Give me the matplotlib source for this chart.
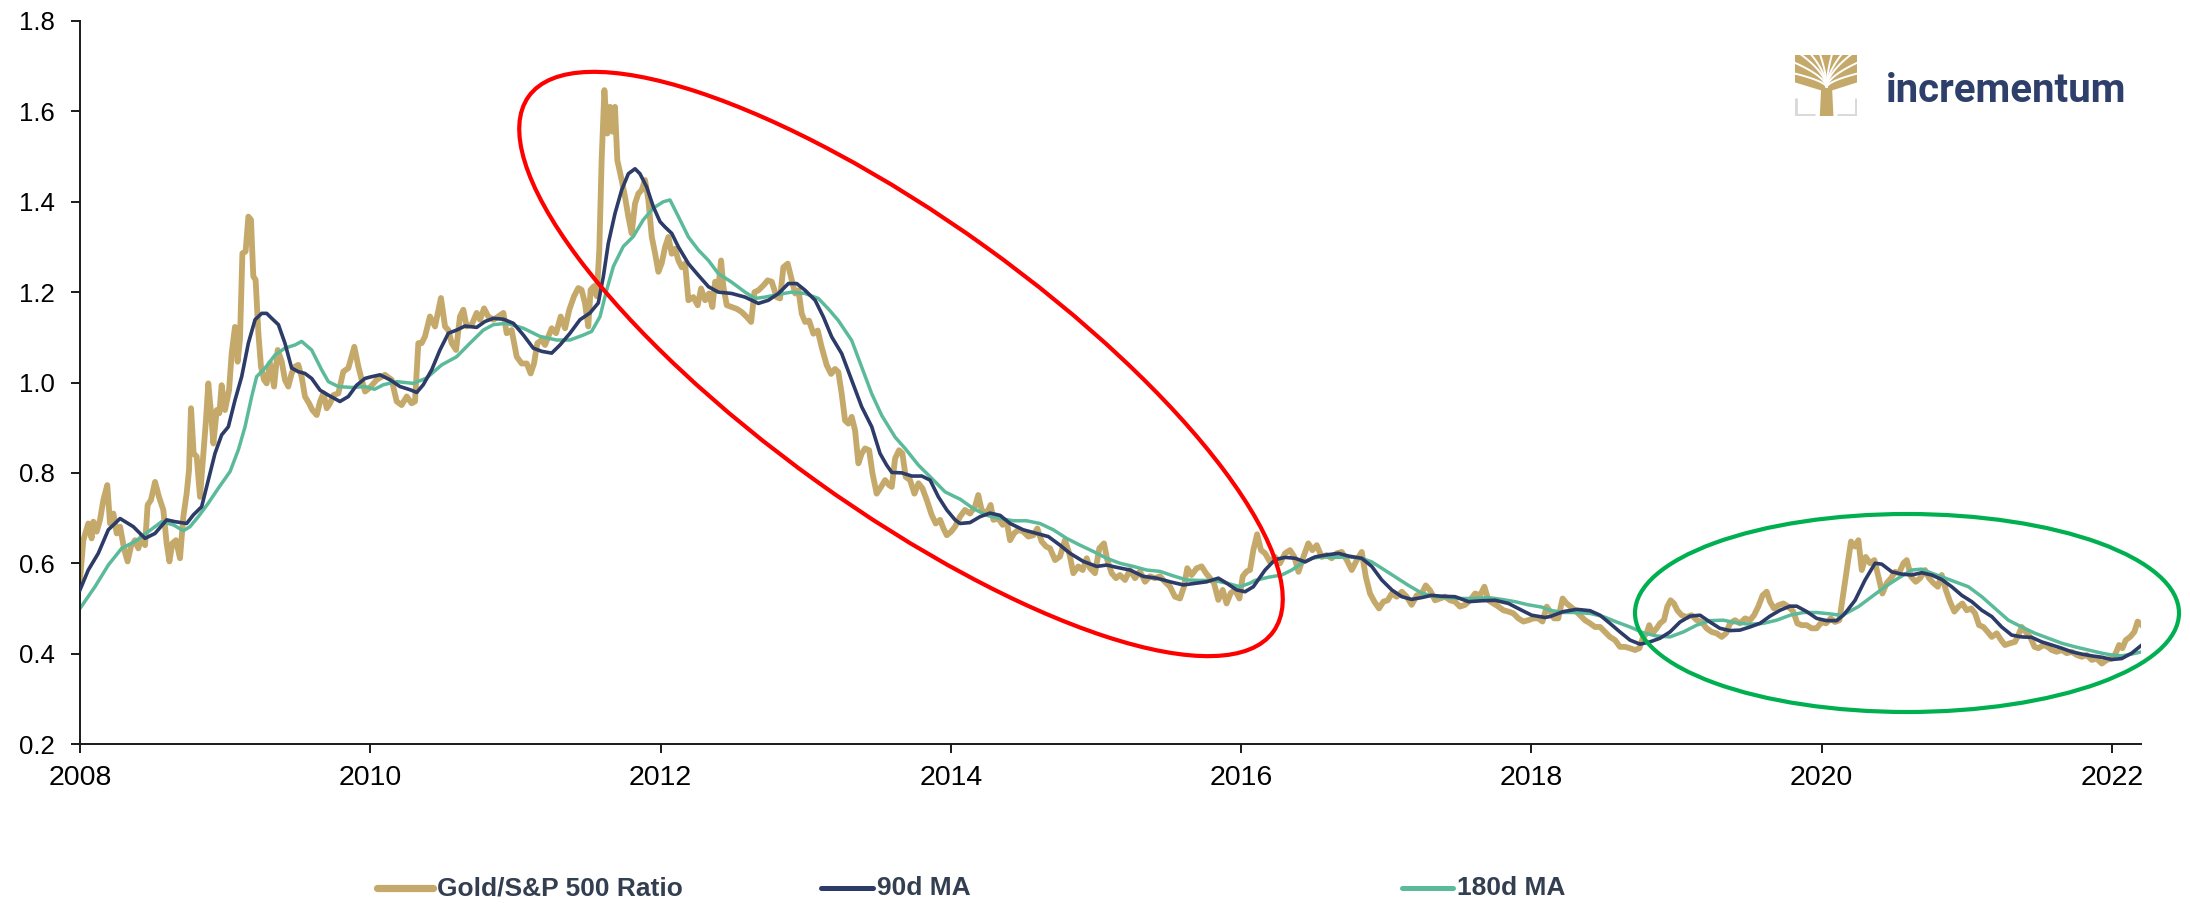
import matplotlib
matplotlib.use("Agg")
import matplotlib.pyplot as plt
from matplotlib.patches import Ellipse
from matplotlib.lines import Line2D
import numpy as np

# ---- data -------------------------------------------------------------
gold_year = [
    2008.000, 2008.023, 2008.057, 2008.080, 2008.092, 2008.115, 2008.138, 2008.161, 2008.188, 2008.207,
    2008.230, 2008.253, 2008.276, 2008.305, 2008.328, 2008.351, 2008.379, 2008.402, 2008.425, 2008.448,
    2008.466, 2008.489, 2008.517, 2008.544, 2008.574, 2008.597, 2008.616, 2008.636, 2008.661, 2008.689,
    2008.712, 2008.735, 2008.751, 2008.765, 2008.783, 2008.804, 2008.827, 2008.850, 2008.868, 2008.884,
    2008.903, 2008.919, 2008.942, 2008.960, 2008.976, 2008.999, 2009.027, 2009.045, 2009.068, 2009.086,
    2009.102, 2009.119, 2009.141, 2009.160, 2009.178, 2009.194, 2009.210, 2009.229, 2009.247, 2009.268,
    2009.286, 2009.309, 2009.337, 2009.362, 2009.390, 2009.412, 2009.435, 2009.458, 2009.481, 2009.504,
    2009.527, 2009.550, 2009.578, 2009.601, 2009.631, 2009.654, 2009.677, 2009.700, 2009.723, 2009.746,
    2009.780, 2009.814, 2009.849, 2009.890, 2009.918, 2009.941, 2009.964, 2009.998, 2010.044, 2010.101,
    2010.147, 2010.182, 2010.216, 2010.251, 2010.285, 2010.308, 2010.331, 2010.354, 2010.377, 2010.411,
    2010.446, 2010.487, 2010.515, 2010.538, 2010.561, 2010.591, 2010.618, 2010.641, 2010.664, 2010.699,
    2010.733, 2010.756, 2010.784, 2010.813, 2010.848, 2010.882, 2010.917, 2010.940, 2010.974, 2011.009,
    2011.043, 2011.078, 2011.105, 2011.128, 2011.151, 2011.181, 2011.204, 2011.227, 2011.250, 2011.280,
    2011.312, 2011.342, 2011.371, 2011.404, 2011.433, 2011.456, 2011.479, 2011.502, 2011.518, 2011.541,
    2011.560, 2011.578, 2011.594, 2011.613, 2011.633, 2011.652, 2011.670, 2011.686, 2011.702, 2011.732,
    2011.755, 2011.778, 2011.801, 2011.824, 2011.847, 2011.870, 2011.893, 2011.916, 2011.939, 2011.962,
    2011.985, 2012.008, 2012.031, 2012.054, 2012.077, 2012.100, 2012.123, 2012.146, 2012.169, 2012.192,
    2012.226, 2012.256, 2012.279, 2012.307, 2012.334, 2012.357, 2012.376, 2012.398, 2012.417, 2012.433,
    2012.456, 2012.490, 2012.525, 2012.559, 2012.594, 2012.624, 2012.647, 2012.674, 2012.709, 2012.738,
    2012.766, 2012.800, 2012.823, 2012.846, 2012.876, 2012.899, 2012.927, 2012.950, 2012.973, 2012.996,
    2013.023, 2013.053, 2013.083, 2013.110, 2013.145, 2013.175, 2013.202, 2013.225, 2013.248, 2013.271,
    2013.294, 2013.317, 2013.340, 2013.363, 2013.386, 2013.409, 2013.437, 2013.460, 2013.489, 2013.519,
    2013.547, 2013.574, 2013.593, 2013.616, 2013.643, 2013.666, 2013.689, 2013.719, 2013.749, 2013.777,
    2013.804, 2013.834, 2013.868, 2013.896, 2013.926, 2013.949, 2013.972, 2014.002, 2014.029, 2014.063,
    2014.097, 2014.132, 2014.166, 2014.189, 2014.212, 2014.247, 2014.274, 2014.293, 2014.327, 2014.357,
    2014.385, 2014.408, 2014.435, 2014.465, 2014.499, 2014.534, 2014.568, 2014.596, 2014.626, 2014.656,
    2014.683, 2014.718, 2014.752, 2014.786, 2014.816, 2014.844, 2014.878, 2014.908, 2014.936, 2014.959,
    2014.993, 2015.023, 2015.055, 2015.078, 2015.108, 2015.138, 2015.165, 2015.200, 2015.234, 2015.269,
    2015.303, 2015.338, 2015.372, 2015.407, 2015.441, 2015.475, 2015.510, 2015.544, 2015.579, 2015.606,
    2015.629, 2015.659, 2015.694, 2015.728, 2015.758, 2015.786, 2015.813, 2015.843, 2015.873, 2015.900,
    2015.928, 2015.958, 2015.988, 2016.011, 2016.038, 2016.061, 2016.084, 2016.110, 2016.137, 2016.165,
    2016.199, 2016.234, 2016.268, 2016.303, 2016.337, 2016.367, 2016.395, 2016.429, 2016.463, 2016.491,
    2016.521, 2016.555, 2016.590, 2016.624, 2016.659, 2016.693, 2016.728, 2016.762, 2016.797, 2016.831,
    2016.859, 2016.888, 2016.918, 2016.950, 2016.980, 2017.010, 2017.038, 2017.072, 2017.107, 2017.141,
    2017.175, 2017.210, 2017.244, 2017.272, 2017.302, 2017.336, 2017.371, 2017.405, 2017.440, 2017.474,
    2017.508, 2017.543, 2017.577, 2017.612, 2017.646, 2017.676, 2017.704, 2017.738, 2017.773, 2017.807,
    2017.842, 2017.876, 2017.910, 2017.945, 2017.979, 2018.014, 2018.048, 2018.076, 2018.106, 2018.132,
    2018.156, 2018.185, 2018.215, 2018.243, 2018.270, 2018.300, 2018.335, 2018.369, 2018.404, 2018.438,
    2018.473, 2018.507, 2018.541, 2018.576, 2018.610, 2018.645, 2018.679, 2018.714, 2018.744, 2018.767,
    2018.794, 2018.812, 2018.835, 2018.863, 2018.886, 2018.913, 2018.936, 2018.959, 2018.982, 2019.005,
    2019.035, 2019.070, 2019.104, 2019.139, 2019.173, 2019.207, 2019.242, 2019.276, 2019.311, 2019.341,
    2019.368, 2019.403, 2019.437, 2019.472, 2019.506, 2019.534, 2019.563, 2019.593, 2019.621, 2019.644,
    2019.671, 2019.701, 2019.736, 2019.770, 2019.805, 2019.832, 2019.862, 2019.897, 2019.931, 2019.965,
    2020.000, 2020.030, 2020.062, 2020.092, 2020.122, 2020.145, 2020.161, 2020.184, 2020.202, 2020.230,
    2020.253, 2020.276, 2020.303, 2020.333, 2020.363, 2020.391, 2020.418, 2020.448, 2020.478, 2020.506,
    2020.533, 2020.563, 2020.586, 2020.616, 2020.648, 2020.678, 2020.712, 2020.740, 2020.770, 2020.800,
    2020.827, 2020.855, 2020.884, 2020.914, 2020.942, 2020.969, 2020.999, 2021.029, 2021.057, 2021.084,
    2021.114, 2021.144, 2021.172, 2021.206, 2021.236, 2021.263, 2021.298, 2021.332, 2021.355, 2021.378,
    2021.406, 2021.436, 2021.466, 2021.493, 2021.528, 2021.557, 2021.585, 2021.619, 2021.654, 2021.688,
    2021.723, 2021.757, 2021.792, 2021.826, 2021.861, 2021.895, 2021.930, 2021.964, 2021.998, 2022.026,
    2022.049, 2022.072, 2022.095, 2022.125, 2022.154, 2022.177, 2022.205,
]
gold_ratio = [
    0.563, 0.651, 0.688, 0.655, 0.692, 0.670, 0.696, 0.740, 0.773, 0.688,
    0.710, 0.666, 0.681, 0.630, 0.604, 0.637, 0.651, 0.633, 0.659, 0.640,
    0.729, 0.740, 0.780, 0.747, 0.718, 0.644, 0.604, 0.644, 0.651, 0.611,
    0.703, 0.755, 0.806, 0.943, 0.843, 0.836, 0.747, 0.843, 0.917, 0.998,
    0.932, 0.865, 0.939, 0.932, 0.994, 0.939, 0.983, 1.065, 1.123, 1.046,
    1.094, 1.286, 1.290, 1.367, 1.360, 1.235, 1.227, 1.109, 1.035, 1.006,
    0.998, 1.043, 0.991, 1.072, 1.046, 1.006, 0.991, 1.020, 1.035, 1.039,
    1.013, 0.969, 0.954, 0.939, 0.928, 0.958, 0.976, 0.943, 0.954, 0.972,
    0.976, 1.024, 1.032, 1.079, 1.035, 1.006, 0.980, 0.989, 1.006, 1.017,
    1.006, 0.958, 0.950, 0.969, 0.954, 0.958, 1.087, 1.087, 1.102, 1.146,
    1.124, 1.187, 1.124, 1.116, 1.087, 1.072, 1.146, 1.161, 1.124, 1.128,
    1.154, 1.139, 1.164, 1.146, 1.139, 1.146, 1.154, 1.109, 1.116, 1.057,
    1.042, 1.042, 1.020, 1.042, 1.087, 1.094, 1.083, 1.102, 1.120, 1.109,
    1.146, 1.120, 1.161, 1.191, 1.209, 1.205, 1.176, 1.124, 1.205, 1.213,
    1.191, 1.294, 1.492, 1.647, 1.551, 1.610, 1.555, 1.610, 1.492, 1.448,
    1.411, 1.367, 1.330, 1.396, 1.418, 1.426, 1.448, 1.404, 1.323, 1.286,
    1.245, 1.264, 1.300, 1.322, 1.285, 1.296, 1.270, 1.255, 1.263, 1.182,
    1.189, 1.171, 1.208, 1.182, 1.197, 1.167, 1.223, 1.208, 1.270, 1.212,
    1.171, 1.167, 1.163, 1.156, 1.145, 1.134, 1.200, 1.204, 1.215, 1.226,
    1.223, 1.189, 1.186, 1.255, 1.263, 1.233, 1.197, 1.204, 1.152, 1.134,
    1.137, 1.108, 1.115, 1.078, 1.038, 1.019, 1.030, 1.023, 0.975, 0.916,
    0.909, 0.924, 0.894, 0.821, 0.843, 0.854, 0.850, 0.799, 0.754, 0.769,
    0.784, 0.773, 0.769, 0.832, 0.850, 0.843, 0.791, 0.784, 0.754, 0.777,
    0.766, 0.740, 0.707, 0.688, 0.696, 0.677, 0.662, 0.670, 0.681, 0.703,
    0.718, 0.710, 0.725, 0.751, 0.718, 0.710, 0.729, 0.696, 0.699, 0.685,
    0.692, 0.651, 0.666, 0.674, 0.670, 0.659, 0.662, 0.677, 0.648, 0.637,
    0.633, 0.607, 0.615, 0.651, 0.622, 0.578, 0.593, 0.585, 0.611, 0.589,
    0.578, 0.633, 0.644, 0.607, 0.578, 0.567, 0.574, 0.563, 0.585, 0.567,
    0.582, 0.559, 0.571, 0.567, 0.571, 0.559, 0.548, 0.526, 0.522, 0.548,
    0.589, 0.574, 0.589, 0.593, 0.578, 0.567, 0.556, 0.519, 0.541, 0.511,
    0.534, 0.541, 0.522, 0.571, 0.582, 0.585, 0.629, 0.664, 0.629, 0.622,
    0.603, 0.614, 0.600, 0.622, 0.629, 0.614, 0.581, 0.614, 0.644, 0.629,
    0.640, 0.614, 0.618, 0.611, 0.622, 0.625, 0.607, 0.585, 0.607, 0.625,
    0.570, 0.533, 0.515, 0.500, 0.515, 0.518, 0.533, 0.526, 0.537, 0.526,
    0.508, 0.529, 0.533, 0.551, 0.540, 0.518, 0.522, 0.526, 0.518, 0.515,
    0.504, 0.508, 0.518, 0.533, 0.529, 0.548, 0.518, 0.511, 0.504, 0.496,
    0.493, 0.489, 0.478, 0.471, 0.474, 0.478, 0.478, 0.471, 0.504, 0.492,
    0.478, 0.478, 0.522, 0.511, 0.504, 0.496, 0.485, 0.474, 0.467, 0.459,
    0.459, 0.448, 0.437, 0.430, 0.415, 0.415, 0.412, 0.408, 0.412, 0.434,
    0.445, 0.463, 0.445, 0.456, 0.467, 0.474, 0.504, 0.518, 0.511, 0.496,
    0.485, 0.481, 0.485, 0.474, 0.470, 0.456, 0.448, 0.445, 0.437, 0.445,
    0.467, 0.474, 0.467, 0.478, 0.474, 0.485, 0.504, 0.529, 0.537, 0.515,
    0.500, 0.507, 0.511, 0.504, 0.493, 0.467, 0.463, 0.463, 0.456, 0.456,
    0.470, 0.467, 0.478, 0.470, 0.474, 0.525, 0.560, 0.610, 0.648, 0.637,
    0.651, 0.585, 0.614, 0.600, 0.607, 0.570, 0.533, 0.556, 0.567, 0.581,
    0.578, 0.600, 0.607, 0.570, 0.559, 0.567, 0.585, 0.567, 0.556, 0.548,
    0.574, 0.541, 0.515, 0.493, 0.504, 0.511, 0.496, 0.500, 0.489, 0.463,
    0.459, 0.448, 0.437, 0.445, 0.430, 0.419, 0.423, 0.426, 0.441, 0.459,
    0.448, 0.437, 0.415, 0.412, 0.419, 0.415, 0.408, 0.404, 0.408, 0.401,
    0.404, 0.397, 0.393, 0.397, 0.386, 0.389, 0.378, 0.386, 0.389, 0.401,
    0.419, 0.412, 0.430, 0.437, 0.448, 0.471, 0.463,
]

ma90_year = [
    2008.000, 2008.057, 2008.126, 2008.195, 2008.276, 2008.367, 2008.448, 2008.517, 2008.597, 2008.655,
    2008.735, 2008.781, 2008.838, 2008.884, 2008.930, 2008.976, 2009.022, 2009.068, 2009.114, 2009.160,
    2009.206, 2009.252, 2009.286, 2009.321, 2009.367, 2009.412, 2009.458, 2009.504, 2009.550, 2009.596,
    2009.654, 2009.711, 2009.791, 2009.849, 2009.906, 2009.964, 2009.998, 2010.067, 2010.136, 2010.205,
    2010.274, 2010.320, 2010.365, 2010.423, 2010.480, 2010.538, 2010.595, 2010.653, 2010.733, 2010.790,
    2010.848, 2010.917, 2010.986, 2011.055, 2011.123, 2011.181, 2011.250, 2011.307, 2011.376, 2011.445,
    2011.514, 2011.571, 2011.606, 2011.640, 2011.686, 2011.732, 2011.778, 2011.824, 2011.858, 2011.904,
    2011.950, 2011.996, 2012.031, 2012.077, 2012.123, 2012.192, 2012.261, 2012.330, 2012.398, 2012.490,
    2012.582, 2012.674, 2012.743, 2012.812, 2012.881, 2012.938, 2012.996, 2013.065, 2013.122, 2013.179,
    2013.248, 2013.317, 2013.386, 2013.455, 2013.512, 2013.558, 2013.593, 2013.662, 2013.731, 2013.800,
    2013.857, 2013.914, 2013.972, 2014.029, 2014.063, 2014.132, 2014.201, 2014.270, 2014.339, 2014.408,
    2014.499, 2014.591, 2014.672, 2014.752, 2014.821, 2014.913, 2015.005, 2015.074, 2015.142, 2015.234,
    2015.326, 2015.418, 2015.510, 2015.602, 2015.694, 2015.763, 2015.843, 2015.900, 2015.969, 2016.027,
    2016.084, 2016.110, 2016.165, 2016.234, 2016.303, 2016.372, 2016.441, 2016.509, 2016.578, 2016.670,
    2016.739, 2016.831, 2016.900, 2016.969, 2017.038, 2017.107, 2017.175, 2017.244, 2017.313, 2017.382,
    2017.474, 2017.566, 2017.658, 2017.750, 2017.842, 2017.933, 2018.002, 2018.094, 2018.128, 2018.220,
    2018.312, 2018.404, 2018.473, 2018.541, 2018.610, 2018.679, 2018.748, 2018.817, 2018.886, 2018.955,
    2019.024, 2019.093, 2019.162, 2019.230, 2019.299, 2019.368, 2019.437, 2019.506, 2019.575, 2019.644,
    2019.713, 2019.782, 2019.828, 2019.897, 2019.965, 2020.034, 2020.103, 2020.149, 2020.175, 2020.230,
    2020.299, 2020.368, 2020.414, 2020.483, 2020.551, 2020.620, 2020.689, 2020.758, 2020.827, 2020.896,
    2020.965, 2021.034, 2021.103, 2021.172, 2021.240, 2021.309, 2021.378, 2021.447, 2021.516, 2021.585,
    2021.654, 2021.723, 2021.792, 2021.861, 2021.930, 2021.998, 2022.067, 2022.136, 2022.205,
]
ma90 = [
    0.541, 0.585, 0.622, 0.674, 0.699, 0.681, 0.655, 0.666, 0.696, 0.692,
    0.688, 0.707, 0.725, 0.784, 0.843, 0.884, 0.902, 0.961, 1.013, 1.087,
    1.139, 1.153, 1.153, 1.142, 1.128, 1.087, 1.032, 1.024, 1.020, 1.009,
    0.983, 0.972, 0.958, 0.969, 0.994, 1.009, 1.012, 1.017, 1.006, 0.991,
    0.984, 0.978, 0.995, 1.028, 1.072, 1.109, 1.116, 1.125, 1.122, 1.135,
    1.142, 1.140, 1.131, 1.105, 1.076, 1.069, 1.065, 1.083, 1.109, 1.139,
    1.154, 1.176, 1.235, 1.308, 1.374, 1.426, 1.462, 1.473, 1.462, 1.433,
    1.389, 1.356, 1.344, 1.330, 1.300, 1.263, 1.237, 1.212, 1.200, 1.197,
    1.189, 1.175, 1.182, 1.197, 1.219, 1.219, 1.204, 1.182, 1.145, 1.101,
    1.064, 1.005, 0.946, 0.902, 0.843, 0.817, 0.801, 0.800, 0.793, 0.793,
    0.784, 0.747, 0.718, 0.696, 0.688, 0.690, 0.703, 0.711, 0.706, 0.688,
    0.674, 0.666, 0.659, 0.640, 0.622, 0.604, 0.593, 0.596, 0.591, 0.585,
    0.571, 0.567, 0.559, 0.552, 0.556, 0.559, 0.567, 0.556, 0.541, 0.537,
    0.548, 0.560, 0.585, 0.608, 0.613, 0.611, 0.603, 0.614, 0.618, 0.622,
    0.616, 0.611, 0.593, 0.563, 0.541, 0.526, 0.520, 0.524, 0.529, 0.527,
    0.526, 0.515, 0.517, 0.518, 0.511, 0.496, 0.485, 0.480, 0.482, 0.493,
    0.498, 0.495, 0.485, 0.467, 0.448, 0.430, 0.421, 0.426, 0.434, 0.448,
    0.470, 0.483, 0.485, 0.470, 0.456, 0.451, 0.452, 0.459, 0.467, 0.483,
    0.496, 0.505, 0.505, 0.493, 0.478, 0.473, 0.473, 0.485, 0.495, 0.518,
    0.563, 0.600, 0.598, 0.581, 0.576, 0.574, 0.579, 0.574, 0.564, 0.548,
    0.529, 0.515, 0.496, 0.482, 0.459, 0.441, 0.437, 0.436, 0.426, 0.419,
    0.412, 0.404, 0.399, 0.395, 0.392, 0.387, 0.389, 0.401, 0.419,
]

ma180_year = [
    2008.000, 2008.103, 2008.195, 2008.287, 2008.379, 2008.471, 2008.563, 2008.643, 2008.712, 2008.758,
    2008.815, 2008.884, 2008.953, 2009.034, 2009.091, 2009.137, 2009.183, 2009.217, 2009.275, 2009.344,
    2009.412, 2009.481, 2009.527, 2009.596, 2009.665, 2009.711, 2009.780, 2009.872, 2009.964, 2010.030,
    2010.090, 2010.182, 2010.297, 2010.388, 2010.492, 2010.595, 2010.687, 2010.779, 2010.848, 2010.940,
    2011.055, 2011.169, 2011.284, 2011.376, 2011.468, 2011.525, 2011.583, 2011.629, 2011.675, 2011.743,
    2011.812, 2011.881, 2011.950, 2012.019, 2012.065, 2012.123, 2012.192, 2012.261, 2012.330, 2012.398,
    2012.490, 2012.582, 2012.651, 2012.720, 2012.812, 2012.904, 2012.996, 2013.087, 2013.156, 2013.225,
    2013.317, 2013.386, 2013.455, 2013.524, 2013.616, 2013.685, 2013.777, 2013.868, 2013.960, 2014.029,
    2014.063, 2014.155, 2014.247, 2014.339, 2014.430, 2014.522, 2014.614, 2014.706, 2014.798, 2014.890,
    2014.982, 2015.074, 2015.165, 2015.257, 2015.349, 2015.441, 2015.533, 2015.625, 2015.717, 2015.809,
    2015.900, 2015.992, 2016.061, 2016.096, 2016.188, 2016.280, 2016.349, 2016.418, 2016.486, 2016.555,
    2016.647, 2016.739, 2016.831, 2016.900, 2016.969, 2017.061, 2017.153, 2017.244, 2017.336, 2017.428,
    2017.520, 2017.612, 2017.704, 2017.796, 2017.887, 2017.979, 2018.071, 2018.128, 2018.220, 2018.312,
    2018.404, 2018.495, 2018.587, 2018.679, 2018.771, 2018.863, 2018.955, 2019.047, 2019.139, 2019.230,
    2019.322, 2019.414, 2019.506, 2019.598, 2019.690, 2019.782, 2019.874, 2019.965, 2020.057, 2020.126,
    2020.161, 2020.253, 2020.345, 2020.437, 2020.528, 2020.620, 2020.689, 2020.758, 2020.827, 2020.919,
    2021.011, 2021.103, 2021.195, 2021.286, 2021.378, 2021.470, 2021.562, 2021.654, 2021.746, 2021.838,
    2021.930, 2021.998, 2022.067, 2022.136, 2022.205,
]
ma180 = [
    0.500, 0.548, 0.596, 0.633, 0.648, 0.670, 0.692, 0.685, 0.672, 0.681,
    0.703, 0.733, 0.766, 0.803, 0.851, 0.902, 0.969, 1.013, 1.032, 1.061,
    1.076, 1.083, 1.091, 1.072, 1.028, 1.002, 0.991, 0.989, 0.991, 0.985,
    0.995, 1.002, 0.998, 1.010, 1.039, 1.057, 1.087, 1.116, 1.128, 1.131,
    1.120, 1.102, 1.094, 1.094, 1.105, 1.113, 1.146, 1.205, 1.257, 1.301,
    1.323, 1.360, 1.386, 1.400, 1.404, 1.367, 1.322, 1.293, 1.270, 1.241,
    1.222, 1.200, 1.186, 1.189, 1.195, 1.200, 1.197, 1.186, 1.163, 1.137,
    1.093, 1.034, 0.975, 0.927, 0.879, 0.854, 0.817, 0.788, 0.758, 0.747,
    0.742, 0.721, 0.706, 0.699, 0.694, 0.694, 0.688, 0.674, 0.655, 0.640,
    0.626, 0.611, 0.600, 0.593, 0.585, 0.582, 0.572, 0.563, 0.562, 0.562,
    0.556, 0.548, 0.556, 0.562, 0.569, 0.574, 0.585, 0.600, 0.611, 0.614,
    0.613, 0.614, 0.611, 0.603, 0.589, 0.570, 0.551, 0.534, 0.526, 0.524,
    0.522, 0.522, 0.524, 0.520, 0.515, 0.508, 0.503, 0.496, 0.491, 0.491,
    0.489, 0.482, 0.470, 0.459, 0.446, 0.439, 0.437, 0.448, 0.463, 0.473,
    0.474, 0.468, 0.465, 0.467, 0.474, 0.485, 0.491, 0.491, 0.488, 0.485,
    0.488, 0.504, 0.526, 0.548, 0.567, 0.585, 0.587, 0.578, 0.570, 0.559,
    0.548, 0.526, 0.500, 0.474, 0.459, 0.445, 0.434, 0.423, 0.415, 0.408,
    0.401, 0.397, 0.395, 0.399, 0.404,
]

series_labels = ["Gold/S&P 500 Ratio", "90d MA", "180d MA"]
x_ticks = [2008, 2010, 2012, 2014, 2016, 2018, 2020, 2022]
y_ticks = [0.2, 0.4, 0.6, 0.8, 1.0, 1.2, 1.4, 1.6, 1.8]

GOLD = "#C4A96B"
NAVY = "#2C3B67"
TEAL = "#5BBA99"
TEXT = "#333F50"

plt.rcParams["font.family"] = ["Liberation Sans", "DejaVu Sans"]

W, H = 2190, 908
fig = plt.figure(figsize=(W / 100, H / 100), dpi=100)
ax = fig.add_axes([80 / W, (H - 744) / H, (2141 - 80) / W, (744 - 21) / H])

ax.plot(gold_year, gold_ratio, color=GOLD, lw=4.2, solid_joinstyle="round", zorder=2)
ax.plot(ma90_year, ma90, color=NAVY, lw=2.6, zorder=3)
ax.plot(ma180_year, ma180, color=TEAL, lw=2.5, zorder=2.5)

ax.set_xlim(2008, 2022.20)
ax.set_ylim(0.2, 1.8)
ax.set_xticks(x_ticks)
ax.set_xticklabels([str(t) for t in x_ticks])
ax.set_yticks(y_ticks)
ax.set_yticklabels([f"{t:.1f}" for t in y_ticks])
for s in ("top", "right"):
    ax.spines[s].set_visible(False)
for s in ("left", "bottom"):
    ax.spines[s].set_color("#1a1a1a")
    ax.spines[s].set_linewidth(1.4)
ax.tick_params(axis="both", direction="out", length=6.3, width=1.4, color="#1a1a1a",
               labelcolor="#000000")
ax.tick_params(axis="y", labelsize=18.5, pad=12)
ax.tick_params(axis="x", labelsize=20.5, pad=9)

# highlighted regions (drawn in figure inches so the shapes stay undistorted)
inch = fig.dpi_scale_trans
red_oval = Ellipse((901 / 100, (H - 364) / 100), 9.17, 2.89, angle=-35.7,
                   transform=inch, fill=False, ec="#FF0000", lw=3, zorder=10)
green_oval = Ellipse((1907 / 100, (H - 613) / 100), 5.44, 1.98, angle=0,
                     transform=inch, fill=False, ec="#00B050", lw=3, zorder=10)
fig.add_artist(red_oval)
fig.add_artist(green_oval)

# legend row
legend_y = (H - 888) / H
legend_items = [(377, 433, 437, GOLD, 5.2), (821, 873, 877, NAVY, 3.6), (1402, 1453, 1457, TEAL, 3.6)]
for (x0, x1, xt, col, lw), lab in zip(legend_items, series_labels):
    fig.add_artist(Line2D([x0 / W, x1 / W], [legend_y, legend_y], color=col, lw=lw,
                          solid_capstyle="round", transform=fig.transFigure))
    fig.text(xt / W, legend_y, lab, fontsize=19, fontweight="bold", color=TEXT,
             ha="left", va="center")

# brand mark: golden tree in a grey bracket
lax = fig.add_axes([1795 / W, (H - 116) / H, 62 / W, 61 / H])
lax.set_xlim(0, 1)
lax.set_ylim(0, 1)
lax.axis("off")
lax.fill([0.40, 0.62, 0.60, 1.0, 1.0, 0.0, 0.0, 0.42],
         [0.0, 0.0, 0.42, 0.55, 1.0, 1.0, 0.55, 0.42], color=GOLD, lw=0)
gap_ends = [(0.08, 1.02), (0.25, 1.02), (0.40, 1.02), (0.60, 1.02), (0.76, 1.02), (0.92, 1.02),
            (-0.02, 0.88), (1.02, 0.88), (-0.02, 0.70), (1.02, 0.70)]
for ex, ey in gap_ends:
    t = np.linspace(0, 1, 24)
    bx = 0.51 + (ex - 0.51) * t ** 1.3
    by = 0.47 + (ey - 0.47) * t ** 0.75
    lax.plot(bx, by, color="white", lw=1.4, solid_capstyle="butt")
lax.plot([0.0, 0.0, 0.32], [0.30, 0.0, 0.0], color="#D9D9D9", lw=3.5, solid_capstyle="butt")
lax.plot([1.0, 1.0, 0.68], [0.30, 0.0, 0.0], color="#D9D9D9", lw=3.5, solid_capstyle="butt")
fig.text(1886 / W, (H - 102) / H, "incrementum", fontsize=29, fontweight="bold",
         color="#2E3F6B", ha="left", va="baseline", family=["Roboto", "Liberation Sans"])

fig.savefig("out.png", dpi=100)
